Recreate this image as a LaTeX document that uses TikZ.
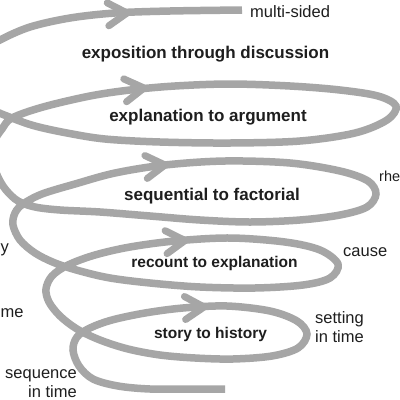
\documentclass[tikz,border=0pt]{standalone}
\usepackage{fontspec}
\setmainfont{Liberation Sans}
\definecolor{spiralgray}{HTML}{A6A6A6}
\definecolor{ink}{HTML}{1E1E1E}
\tikzset{
  spiral/.style={draw=spiralgray, line width=7.5pt},
  chevtip/.style={draw=spiralgray, line width=7pt, line cap=round, line join=round},
  chev/.pic={\draw[chevtip] (-19,11.5) -- (0,0) -- (-19,-11.5);},
  biglbl/.style={text=ink, inner sep=0pt, anchor=base, font=\fontsize{17}{20}\selectfont\bfseries},
  midlbl/.style={text=ink, inner sep=0pt, anchor=base, font=\fontsize{15.5}{18}\selectfont\bfseries},
  sidelbl/.style={text=ink, inner sep=0pt, font=\fontsize{16.5}{19}\selectfont}
}
\begin{document}
\begin{tikzpicture}[x=1pt,y=-1pt]
\clip (0,0) rectangle (400,400);
\fill[white] (0,0) rectangle (400,400);
\draw[spiral] plot[smooth, tension=0.55] coordinates {
 (225,389) (190,389) (150,389) (118,386) (93,379) (79,366) (73,350) (77,337)
 (90,328) (112,320) (145,313) (183,308) (227,306) (270,311) (297,321) (307,334)
 (298,348) (272,356) (233,359) (195,358) (160,355) (128,349) (100,340) (77,329)
 (60,316) (49,302) (46,289) (52,276) (68,265) (95,255) (130,247) (175,241)
 (230,238) (285,242) (320,250) (338,264) (330,278) (303,285) (255,288) (200,287)
 (150,283) (110,278) (80,271) (55,263) (35,253) (20,240) (13,225) (15,213)
 (23,204) (42,194) (75,184) (115,173) (165,165) (225,161) (290,163) (340,171)
 (368,181) (376,194) (367,207) (340,215) (300,220) (250,222) (200,220) (150,216)
 (100,212) (60,210) (35,207) (18,201) (6,190) (-2,177) (-8,160) (-6,142)
 (2,129) (12,118) (43,107) (90,96) (130,90) (175,86) (230,84) (290,86)
 (340,90) (378,96) (396,106) (387,120) (355,133) (300,141) (230,143) (160,142)
 (105,139) (67,133) (35,126) (12,118) (-10,108) (-28,90) (-30,70) (-18,52)
 (0,40) (30,27) (70,18) (115,13) (170,11) (242,10)};
\pic[rotate=4] at (127,13) {chev};
\pic[rotate=7] at (144,88) {chev};
\pic[rotate=6] at (165,165) {chev};
\pic[rotate=5] at (185,240.5) {chev};
\pic[rotate=3] at (204,307) {chev};
\node[biglbl] (expo) at (205.5,58) {exposition through discussion};
\node[biglbl] (expl) at (208,121) {explanation to argument};
\node[biglbl] (seq) at (212,200) {sequential to factorial};
\node[midlbl] (rec) at (214.5,267) {recount to explanation};
\node[midlbl] (sto) at (210.5,338) {story to history};
\node[sidelbl, anchor=base west] (multi) at (250,17) {multi-sided};
\node[sidelbl, anchor=base west, font=\fontsize{14.5}{17}\selectfont] (rhe) at (379,181) {rhe};
\node[sidelbl, anchor=base west] (cause) at (343,256) {cause};
\node[sidelbl, anchor=base west] (set1) at (315,323) {setting};
\node[sidelbl, anchor=base west] (set2) at (315,342) {in time};
\node[sidelbl, anchor=base east] (seqa) at (77,378) {sequence};
\node[sidelbl, anchor=base east] (seqb) at (77,397) {in time};
\node[sidelbl, anchor=base west] (yy) at (0.5,252) {y};
\node[sidelbl, anchor=base west] (me) at (0.5,317) {me};
\end{tikzpicture}
\end{document}
